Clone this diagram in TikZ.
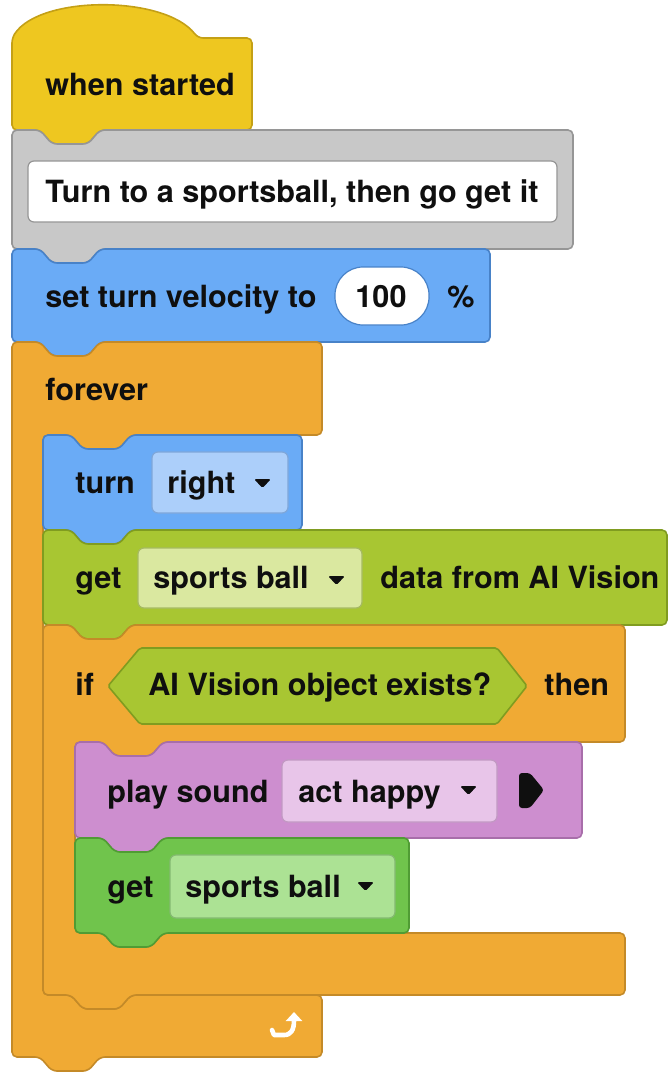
\documentclass[tikz,border=0pt]{standalone}
\usepackage{fontspec}
\setmainfont{TeX Gyre Heros}
\usetikzlibrary{arrows.meta}

\definecolor{eventclr}{RGB}{238,199,32}
\definecolor{eventline}{RGB}{196,160,22}
\definecolor{commentclr}{RGB}{200,200,200}
\definecolor{commentline}{RGB}{150,150,150}
\definecolor{motionclr}{RGB}{106,171,246}
\definecolor{motionline}{RGB}{72,130,200}
\definecolor{motionfield}{RGB}{172,207,250}
\definecolor{controlclr}{RGB}{240,170,52}
\definecolor{controlline}{RGB}{196,138,40}
\definecolor{sensingclr}{RGB}{168,198,50}
\definecolor{sensingline}{RGB}{128,156,32}
\definecolor{sensingfield}{RGB}{218,232,160}
\definecolor{soundclr}{RGB}{205,142,207}
\definecolor{soundline}{RGB}{168,110,170}
\definecolor{soundfield}{RGB}{232,197,233}
\definecolor{looksclr}{RGB}{112,196,76}
\definecolor{looksline}{RGB}{80,156,52}
\definecolor{looksfield}{RGB}{172,226,148}
\definecolor{textclr}{RGB}{15,15,15}

\tikzset{
  blk/.style={rounded corners=2.5, line width=0.8},
  eventblk/.style={blk, fill=eventclr, draw=eventline},
  commentblk/.style={blk, fill=commentclr, draw=commentline},
  motionblk/.style={blk, fill=motionclr, draw=motionline},
  controlblk/.style={blk, fill=controlclr, draw=controlline},
  sensingblk/.style={blk, fill=sensingclr, draw=sensingline},
  soundblk/.style={blk, fill=soundclr, draw=soundline},
  looksblk/.style={blk, fill=looksclr, draw=looksline},
  fieldbox/.style={rounded corners=3, line width=0.6},
  blocktext/.style={font=\bfseries\fontsize{15.3}{18}\selectfont, text=textclr, anchor=base west, inner sep=0},
}

% plain stack block: style, left, top, right, bottom
\newcommand{\stackblock}[5]{%
  \draw[#1] (#2,#3) -- ({#2+28},#3) -- ({#2+40},{#3+14}) -- ({#2+76},{#3+14}) -- ({#2+88},#3)
    -- (#4,#3) -- (#4,#5) -- ({#2+88},#5) -- ({#2+76},{#5+14}) -- ({#2+40},{#5+14}) -- ({#2+28},#5)
    -- (#2,#5) -- cycle;}

% C block: style, left, top, arm right, arm bottom, inner left, foot top, foot right, bottom
\newcommand{\cblock}[9]{%
  \draw[#1] (#2,#3) -- ({#2+28},#3) -- ({#2+40},{#3+14}) -- ({#2+76},{#3+14}) -- ({#2+88},#3)
    -- (#4,#3) -- (#4,#5) -- ({#6+88},#5) -- ({#6+76},{#5+14}) -- ({#6+40},{#5+14}) -- ({#6+28},#5)
    -- (#6,#5) -- (#6,#7) -- ({#6+28},#7) -- ({#6+40},{#7+14}) -- ({#6+76},{#7+14}) -- ({#6+88},#7)
    -- (#8,#7) -- (#8,#9) -- ({#2+88},#9) -- ({#2+76},{#9+14}) -- ({#2+40},{#9+14}) -- ({#2+28},#9)
    -- (#2,#9) -- cycle;}

% dropdown mark
\newcommand{\dropmark}[2]{\fill[textclr, rounded corners=0.8] (#1,#2) -- ({#1+17},#2) -- ({#1+8.5},{#2+9}) -- cycle;}

\begin{document}
\begin{tikzpicture}[x=0.5pt, y=-0.5pt]
\useasboundingbox (0,0) rectangle (669,1072);

% when started
\draw[eventblk] (12,130) -- (12,38) .. controls (40,-5) and (165,-5) .. (198,38) -- (252,38) -- (252,130)
  -- (100,130) -- (88,144) -- (52,144) -- (40,130) -- cycle;
\node[blocktext] (started) at (45,95) {when started};

% comment
\stackblock{commentblk}{12}{130}{573}{249}
\draw[fieldbox, fill=white, draw=commentline] (28,161) rectangle (557,222);
\node[blocktext] (note) at (45,202) {Turn to a sportsball, then go get it};

% set turn velocity
\stackblock{motionblk}{12}{249}{490}{342}
\node[blocktext] (velocity) at (45,307) {set turn velocity to};
\draw[fill=white, draw=motionline, line width=0.6, rounded corners=14] (335,267) rectangle (429,325);
\node[blocktext, anchor=base] (hundred) at (381,307) {100};
\node[blocktext] (percent) at (447,307) {\%};

% forever
\cblock{controlblk}{12}{342}{322}{435}{43}{995}{322}{1057}
\node[blocktext] (forever) at (45,400) {forever};
\draw[white, line width=2.3, line cap=round, line join=round, -{Triangle[length=4.5, width=8]}]
  (272,1030) -- (274,1035) -- (284,1035) .. controls (291,1035) and (294,1030) .. (294,1012);

% turn right
\stackblock{motionblk}{43}{435}{302}{530}
\node[blocktext] (turn) at (75,493) {turn};
\draw[fieldbox, fill=motionfield, draw=motionline!70] (152,452) rectangle (288,513);
\node[blocktext] (right) at (167,493) {right};
\dropmark{254}{479}

% get data from AI Vision
\stackblock{sensingblk}{43}{530}{667}{625}
\node[blocktext] (getdata) at (75,588) {get};
\draw[fieldbox, fill=sensingfield, draw=sensingline!70] (138,548) rectangle (362,608);
\node[blocktext] (ball) at (153,588) {sports ball};
\dropmark{328}{576}
\node[blocktext] (vision) at (380,588) {data from AI Vision};

% if ... then
\cblock{controlblk}{43}{625}{625}{742}{75}{933}{625}{995}
\node[blocktext] (if) at (75,695) {if};
\draw[fill=sensingclr, draw=sensingline, line width=0.8, rounded corners=1]
  (108,686) -- (140,648) -- (497,648) -- (527,686) -- (497,724) -- (140,724) -- cycle;
\node[blocktext] (exists) at (148,695) {AI Vision object exists?};
\node[blocktext] (then) at (544,695) {then};

% play sound
\stackblock{soundblk}{75}{742}{582}{838}
\node[blocktext] (play) at (107,802) {play sound};
\draw[fieldbox, fill=soundfield, draw=soundline!70] (282,760) rectangle (497,822);
\node[blocktext] (happy) at (298,802) {act happy};
\dropmark{460}{786}
\fill[textclr, rounded corners=1.5] (519,773) -- (530,773) -- (544,790) -- (530,808) -- (519,808) -- cycle;

% get sports ball
\stackblock{looksblk}{75}{838}{409}{933}
\node[blocktext] (get) at (107,897) {get};
\draw[fieldbox, fill=looksfield, draw=looksline!70] (170,855) rectangle (395,918);
\node[blocktext] (ballb) at (185,897) {sports ball};
\dropmark{357}{882}
\end{tikzpicture}
\end{document}
